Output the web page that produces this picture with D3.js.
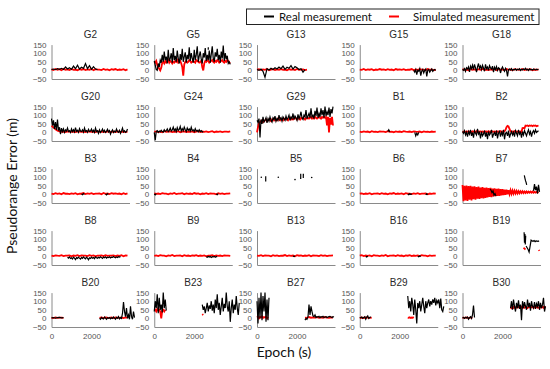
<!DOCTYPE html>
<html>
<head>
<meta charset="utf-8">
<script src="https://cdn.jsdelivr.net/npm/d3@7"></script>
<style>
  body { margin: 0; background: #fff; }
  svg { display: block; }
</style>
</head>
<body>
<div id="chart"></div>
<script>
var satellites = ['G2','G5','G13','G15','G18',
                  'G20','G24','G29','B1','B2',
                  'B3','B4','B5','B6','B7',
                  'B8','B9','B13','B16','B19',
                  'B20','B23','B27','B29','B30']
var yTicks = [-50, 0, 50, 100, 150]
var xTicks = [0, 2000]
var legendLabels = ['Real measurement', 'Simulated measurement']

// every series is a list of segments: [start epoch (s), step (s), values (m)]
var realG2 = [[0, 100, [5,8,4,10,6,12,5,20,8,15,6,25,10,30,8,18,12,40,10,28,6,22,8,5]]]
var simG2 = [[0, 100, [6,2,8,3,7,1,9,4,6,2,8,3,5,1,7,4,8,2,6,3,9,1,7,4,5,2,8,3,6,1,7,4,8,2,5,3,7,1,6]]]

var realG5 = [[0, 50, [55,30,5,0,40,20,60,45,90,50,110,60,80,40,120,55,70,100,45,130,60,85,50,115,70,40,95,60,125,50,
  80,105,45,90,65,135,55,100,70,45,120,60,90,140,50,85,110,65,40,100,75,130,55,90,60,115,45,95,140,70,
  50,105,80,125,60,90,45,110,70,145,55,100,65,85,40,50,35]], [2700, 1, [120,135]]]
var simG5 = [[0, 50, [50,45,55,30,20,10,0,15,45,50,40,55,45,50,60,45,55,50,40,50,45,55,50,60,45,50,55,40,20,-30,
  35,50,55,45,50,60,55,45,50,55,50,45,60,55,50,45,50,55,20,0,40,55,50,60,55,45,50,55,60,50,
  45,55,50,60,55,45,50,55,60,50,45,55,50,60,55,45,40]]]

var realG13 = [[0, 100, [5,0,8,-5,-40,10,2,12,5,15,8,20,10,25,6,18,12,28,8,22,15,5,10,-10,5]]]
var simG13 = [[0, 100, [4,7,2,6,3,8,1,5,7,2,6,4,8,3,5,1,7,4,6,2,8,3,5,6,2,4]]]

var realG15 = [[2700, 50, [0,-10,5,-25,0,-5,10,-30,-5,5,-15,0,8,-35,0,5,-10,0,8,-5,2,5,0]]]
var simG15 = [[0, 100, [5,3,8,2,6,4,7,1,5,3,8,4,6,2,7,3,5,1,8,4,6,3,7,2,5,4,8,1,6,3,7,4,5,2,8,3,6,1,5]]]

var realG18 = [[0, 50, [5,0,10,-5,15,8,20,-8,25,10,30,5,35,15,-10,20,40,12,25,5,30,15,-5,35,10,20,0,28,15,8,
  25,-10,18,5,22,0,15,10,-15,8,20,5,-5,12,0,-35,5,8,2,10,0,6,3,9,1,7,4,10,0,6,
  2,8,5,12,3,7,0,9,4,6,2,8,5,3,7,4,6]]]
var simG18 = [[0, 100, [7,3,5,1,8,4,6,2,7,3,9,4,5,2,6,3,8,1,7,4,5,2,8,3,6,1,7,4,5,3,8,2,6,4,7,1,5,3,6]]]

var realG20 = [[0, 50, [80,40,70,20,60,15,75,10,30,-10,25,5,20,0,15,8,25,5,10,0,20,5,15,3,28,6,12,0,22,8,
  5,15,2,25,6,10,0,18,5,8,20,3,12,0,25,5,10,-5,15,0,8,20,3,12,0,6,18,2,10,-10,
  5,15,0,8,3,20,5,0,12,-5,8,25,3,10,0,5,20]]]
var simG20 = [[0, 100, [40,28,18,10,6,3,5,2,6,4,3,5,2,6,4,3,5,2,6,4,3,5,2,6,4,3,5,2,6,4,3,5,2,6,4,3,5,2,4]]]

var realG24 = [[0, 50, [0,-45,5,10,0,8,3,12,5,2,15,6,10,20,5,12,25,8,15,30,10,20,5,28,12,18,35,8,22,10,
  30,15,5,25,12,20,8,30,10,15,5,22,8,12,3,15,5,10,2,5]]]
var simG24 = [[0, 100, [3,6,2,5,1,7,3,4,6,2,5,3,7,1,4,6,2,5,3,6,1,4,7,2,5,3,6,2,4,7,1,5,3,6,2,4,5,3,6]]]

var realG29 = [[0, 50, [70,60,80,-30,75,50,90,60,70,85,55,80,65,90,70,60,85,75,95,65,80,70,100,75,85,65,90,80,70,95,
  75,85,100,70,90,80,110,75,95,85,70,105,80,95,120,85,75,100,90,130,80,95,110,85,140,90,100,80,125,95,
  145,85,110,90,140,100,130,85,150,95,120,100,145,90,135,110,150]]]
var simG29 = [[0, 50, [0,30,55,60,65,70,60,65,70,75,65,70,75,70,65,75,70,80,70,75,70,80,75,70,80,75,70,80,75,80,
  75,70,80,85,75,80,75,80,85,80,75,85,80,75,85,80,85,80,75,85,80,85,80,85,90,80,85,80,90,85,
  80,85,90,85,80,90,85,90,85,90,40,90,0,85,45,90,40]]]

var realB1 = [[1400, 50, [5,15,3]], [2750, 50, [0,-20,-5,-15,0]]]
var simB1 = [[0, 100, [4,2,6,3,5,1,7,3,4,2,6,4,5,2,7,3,4,1,6,3,5,2,7,4,3,5,2,6,4,3,5,1,6,3,4,2,5,3,4]]]

var realB2 = [[0, 50, [5,-5,10,-15,0,-25,5,-10,15,-20,0,-30,10,-5,-15,20,-10,0,-35,5,-20,-10,10,-25,0,-40,5,-15,-5,15,
  -30,-10,0,-20,10,-35,-5,5,-25,0,-15,15,-40,-5,0,-20,10,-30,-10,5,-15,0,-25,10,-5,-20,15,-10,0,-30,
  5,-15,10,-5,-20,0,15,-10,5,-25,0,10,-5,15,0,5,10]]]
var simB2 = [[0, 50, [5,3,6,2,5,4,7,3,5,2,6,4,5,3,7,2,5,4,6,3,5,2,6,4,5,3,7,2,5,4,
  6,3,5,2,6,4,5,3,7,2,5,4,6,15,30,38,35,20,6,4,5,3,7,2,5,4,6,3,5,2,
  25,26,24,40,38,40,36,40,38,40,36,40,38,40,36,38,40]]]

var realB3 = [[1500, 50, [3,-2,5,0]], [2700, 50, [2,-3,4,1]]]
var simB3 = [[0, 100, [5,2,7,3,6,1,8,4,5,2,6,3,7,1,5,4,8,2,6,3,7,2,5,4,6,1,8,3,5,2,7,4,6,3,5,1,7,2,6]]]

var realB4 = [[0, 50, [2,-3,4]], [3100, 50, [3,-2,5]]]
var simB4 = [[0, 100, [6,3,5,2,7,4,5,1,6,3,8,2,5,4,7,1,6,3,5,2,8,4,6,1,5,3,7,2,6,4,5,1,7,3,6,2,5,4,6]]]

var realB5 = [[215, 50, [100]], [435, 1, [75,105]], [1065, 50, [100]], [1900, 50, [86]],
  [2185, 1, [90,120]], [2315, 1, [95,120]], [2735, 50, [98]]]
var simB5 = []

var realB6 = [[2400, 50, [2,-2,4,0,3]], [3300, 50, [-3,4,0]]]
var simB6 = [[0, 100, [4,6,2,5,3,7,1,5,4,6,2,7,3,5,1,6,4,8,2,5,3,6,1,7,4,5,2,6,3,7,2,5,4,6,1,5,3,6,4]]]

var realB7 = [[1375, 50, [30,25,10,20,-5,5,-10]], [3090, 30, [110,95,80,70,55]], [3550, 50, [20,60,25,45,5,55,15]]]
var simB7 = [[0, 50, [55,-40,50,-35,52,-38,48,-30,50,-35,45,-28,47,-30,42,-25,45,-27,40,-22,42,-24,38,-20,40,-18,36,-15,38,-16,
  34,-12,35,-10,32,-8,33,-9,30,-5,30,-4,28,-2,27,0,25,2,24,3,22,4,21,5,20,6,19,7,18,8,
  18,8,17,9,17,9,16,10,16,10,16,10,15,10,15,10,15]]]

var realB8 = [[800, 50, [-5,-10,-3,-12,-8,-15,-5,-10,-18,-7,-12,-4,-10,-15,-6,-11,-3,-9,-14,-5,-10,-20,-8,-12,-4,-10,-6,
  -13,-3,-8,-11,-5,-9,-2,-7,-12,-4,-8,-3,-10,-5,-7,-2,-9,-4,-6,-1,-5,-8,-3,-6,-2,-4,0]]]
var simB8 = [[0, 100, [5,2,6,4,3,7,2,5,4,6,1,5,3,7,2,6,4,5,2,7,3,6,1,5,4,6,2,7,3,5,4,6,2,5,3,7,1,6,4]]]

var realB9 = [[2600, 50, [-2,-5,0,-4,-1,-6,-2,-3,0,-5,-1,-4]]]
var simB9 = [[0, 100, [3,6,2,7,4,5,1,6,3,8,2,5,4,6,1,7,3,5,2,6,4,7,2,5,3,6,1,5,4,7,2,6,3,5,2,6,4,5,3]]]

var realB13 = [[1800, 50, [2,-1,3]]]
var simB13 = [[0, 100, [5,3,7,2,6,4,5,1,7,3,6,2,5,4,8,2,6,3,5,1,7,4,6,2,5,3,7,1,6,4,5,2,7,3,6,2,5,4,6]]]

var realB16 = [[300, 50, [0,-3,2]], [2900, 50, [1,-2,3,0]]]
var simB16 = [[0, 100, [4,7,2,5,3,6,1,7,4,5,2,6,3,8,1,5,4,6,2,7,3,5,1,6,4,7,2,5,3,6,2,7,4,5,1,6,3,5,4]]]

var realB19 = [[3080, 20, [140,80,130,70,120]], [3180, 50, [60,50,40,25,60,95,90,88,92,86,90,89,88,90]]]
var simB19 = [[3050, 50, [50,45,40]], [3820, 20, [38,32]]]

var realB20 = [[0, 100, [3,5,2,4,6,3,5]], [2400, 50, [0,-5,5,0,-3,8,2,-5,3,0,5,-2,4,0,8,2,-5,5,0,10,-3,5,0,30,95,40,
  10,60,0,20,-5,70,10,-5,40,5]]]
var simB20 = [[0, 100, [5,2,6,3,5,4,3]], [2400, 100, [3,5,2,6,4,3,5,2,6,4,3,5,2,6,4]]]

var realB23 = [[0, 50, [40,100,60,140,30,120,50,80,35,150,60,110,45]],
  [2400, 50, [80,50,70,30,60,90,40,75,55,100,45,80,30,110,60,140,50,90,20,70,120,40,85,60,150,70,40,100,-20,60,
  110,30,80,50,130,60,20,90]]]
var simB23 = [[0, 50, [45,50,40,55,45,50,40,0,45,50,40,50]], [2400, 50, [25,20]]]

var realB27 = [[0, 50, [100,-30,120,0,150,-10,130,40,150,-20,110,-10,120]],
  [2400, 50, [-10,0,-5,10,80,20,70,40,15,10,20,5,10,8,12,5,10,8,12,5,8,10,5,8,10,12,8,5,10,8]]]
var simB27 = [[0, 50, [5,10,0,8,5,12,3,8,5,10,0,8]], [2400, 100, [5,3,8,4,6,5,7,3,6,4,8,5,3,6,5]]]

var realB29 = [[0, 50, [5,3,8,0,6,10,-5,8,15,0,5,10]],
  [2400, 50, [130,60,100,40,120,80,20,110,50,-30,90,60,100,40,80,120,70,30,100,60,90,110,70,100,80,110,90,120,75,105,
  90,110,60,115,50,40,70]]]
var simB29 = [[0, 100, [3,5,2,6,4,3,5]], [2400, 50, [5,3,6,2,5,4,8]]]

var realB30 = [[0, 50, [3,5,0,6,2,8,-5,4,10,0,20,75,5]],
  [2400, 50, [60,100,50,110,70,40,90,60,105,55,80,-10,100,60,95,70,50,110,65,90,45,100,70,60,95,55,85,70,100,50,
  90,60,80,120,40,70]]]
var simB30 = [[0, 100, [5,3,6,2,5,4]], [2400, 50, [65,60,70,62,68,60,66,64,70,62,65,68,60,66,62,70,64,60,66,68,
  62,65,70,60,66,64,68,62,65,60,70,64,66,62,68,65]]]

var realData = {G2: realG2, G5: realG5, G13: realG13, G15: realG15, G18: realG18,
  G20: realG20, G24: realG24, G29: realG29, B1: realB1, B2: realB2,
  B3: realB3, B4: realB4, B5: realB5, B6: realB6, B7: realB7,
  B8: realB8, B9: realB9, B13: realB13, B16: realB16, B19: realB19,
  B20: realB20, B23: realB23, B27: realB27, B29: realB29, B30: realB30}
var simData = {G2: simG2, G5: simG5, G13: simG13, G15: simG15, G18: simG18,
  G20: simG20, G24: simG24, G29: simG29, B1: simB1, B2: simB2,
  B3: simB3, B4: simB4, B5: simB5, B6: simB6, B7: simB7,
  B8: simB8, B9: simB9, B13: simB13, B16: simB16, B19: simB19,
  B20: simB20, B23: simB23, B27: simB27, B29: simB29, B30: simB30}

var width = 550, height = 369
var colLeft = 51.5, colStep = 102.75
var rowTop = 44.6, rowStep = 62
var plotW = 78, plotH = 34.4
var axisGray = '#8a8a8a', labelGray = '#555'

var svg = d3.select('#chart').append('svg')
  .attr('width', width)
  .attr('height', height)

svg.append('rect').attr('width', width).attr('height', height).attr('fill', '#fff')

var x = d3.scaleLinear().domain([0, 3900]).range([0, plotW])
var y = d3.scaleLinear().domain([-50, 150]).range([plotH, 0])

var line = d3.line()
  .x(function(d){ return x(d[0]) })
  .y(function(d){ return y(d[1]) })

var drawSeries = function(g, segments, color, strokeW){
  var pieces = segments.map(function(s){
    return s[2].map(function(v, i){ return [s[0] + i*s[1], v] })
  })
  pieces.forEach(function(pts){
    if(pts.length > 1){
      g.append('path')
        .attr('d', line(pts))
        .attr('fill', 'none')
        .attr('stroke', color)
        .attr('stroke-width', strokeW)
    } else {
      g.append('circle')
        .attr('cx', x(pts[0][0]))
        .attr('cy', y(pts[0][1]))
        .attr('r', 0.8)
        .attr('fill', color)
    }
  })
}

satellites.forEach(function(name, i){
  var col = i % 5, row = Math.floor(i / 5)
  var g = svg.append('g')
    .attr('transform', 'translate(' + (colLeft + col*colStep) + ',' + (rowTop + row*rowStep) + ')')

  g.append('text')
    .attr('x', plotW/2)
    .attr('y', -6.5)
    .attr('text-anchor', 'middle')
    .style('font-family', '"Liberation Sans", Arial, sans-serif')
    .style('font-size', '10px')
    .attr('fill', '#2a2a2a')
    .text(name)

  var yAxis = g.append('g')
    .call(d3.axisLeft(y).tickValues(yTicks).tickSize(0).tickSizeOuter(0).tickPadding(5))
  var xAxis = g.append('g')
    .attr('transform', 'translate(0,' + plotH + ')')
    .call(d3.axisBottom(x).tickValues(row == 4 ? xTicks : []).tickFormat(d3.format('d'))
      .tickSize(0).tickSizeOuter(0).tickPadding(6))

  ;[yAxis, xAxis].forEach(function(a){
    a.select('.domain').attr('stroke', axisGray).attr('stroke-width', 1)
    a.selectAll('text')
      .attr('fill', labelGray)
      .style('font-family', '"Liberation Sans", Arial, sans-serif')
      .style('font-size', '8px')
  })

  drawSeries(g, simData[name], '#ff0000', 1.8)
  drawSeries(g, realData[name], '#000', 1.2)
})

// axis titles
svg.append('text')
  .attr('transform', 'translate(17,186) rotate(-90)')
  .attr('text-anchor', 'middle')
  .style('font-family', 'Lato, sans-serif')
  .style('font-size', '14px')
  .attr('fill', '#111')
  .text('Pseudorange Error (m)')

svg.append('text')
  .attr('x', 284)
  .attr('y', 357)
  .attr('text-anchor', 'middle')
  .style('font-family', 'Lato, sans-serif')
  .style('font-size', '14px')
  .attr('fill', '#111')
  .text('Epoch (s)')

// legend
var legend = svg.append('g')
legend.append('rect')
  .attr('x', 246.5).attr('y', 9)
  .attr('width', 292.5).attr('height', 15.5)
  .attr('fill', '#fff')
  .attr('stroke', '#222')
  .attr('stroke-width', 1)

var legendItems = [{label: legendLabels[0], color: '#000', x: 264, tx: 279},
                   {label: legendLabels[1], color: '#ff0000', x: 389, tx: 413}]
legendItems.forEach(function(d){
  legend.append('line')
    .attr('x1', d.x).attr('x2', d.x + 10)
    .attr('y1', 16.5).attr('y2', 16.5)
    .attr('stroke', d.color)
    .attr('stroke-width', 2)
  legend.append('text')
    .attr('x', d.tx).attr('y', 20.5)
    .style('font-family', 'Lato, sans-serif')
    .style('font-size', '11.5px')
    .attr('fill', '#111')
    .text(d.label)
})
</script>
</body>
</html>
